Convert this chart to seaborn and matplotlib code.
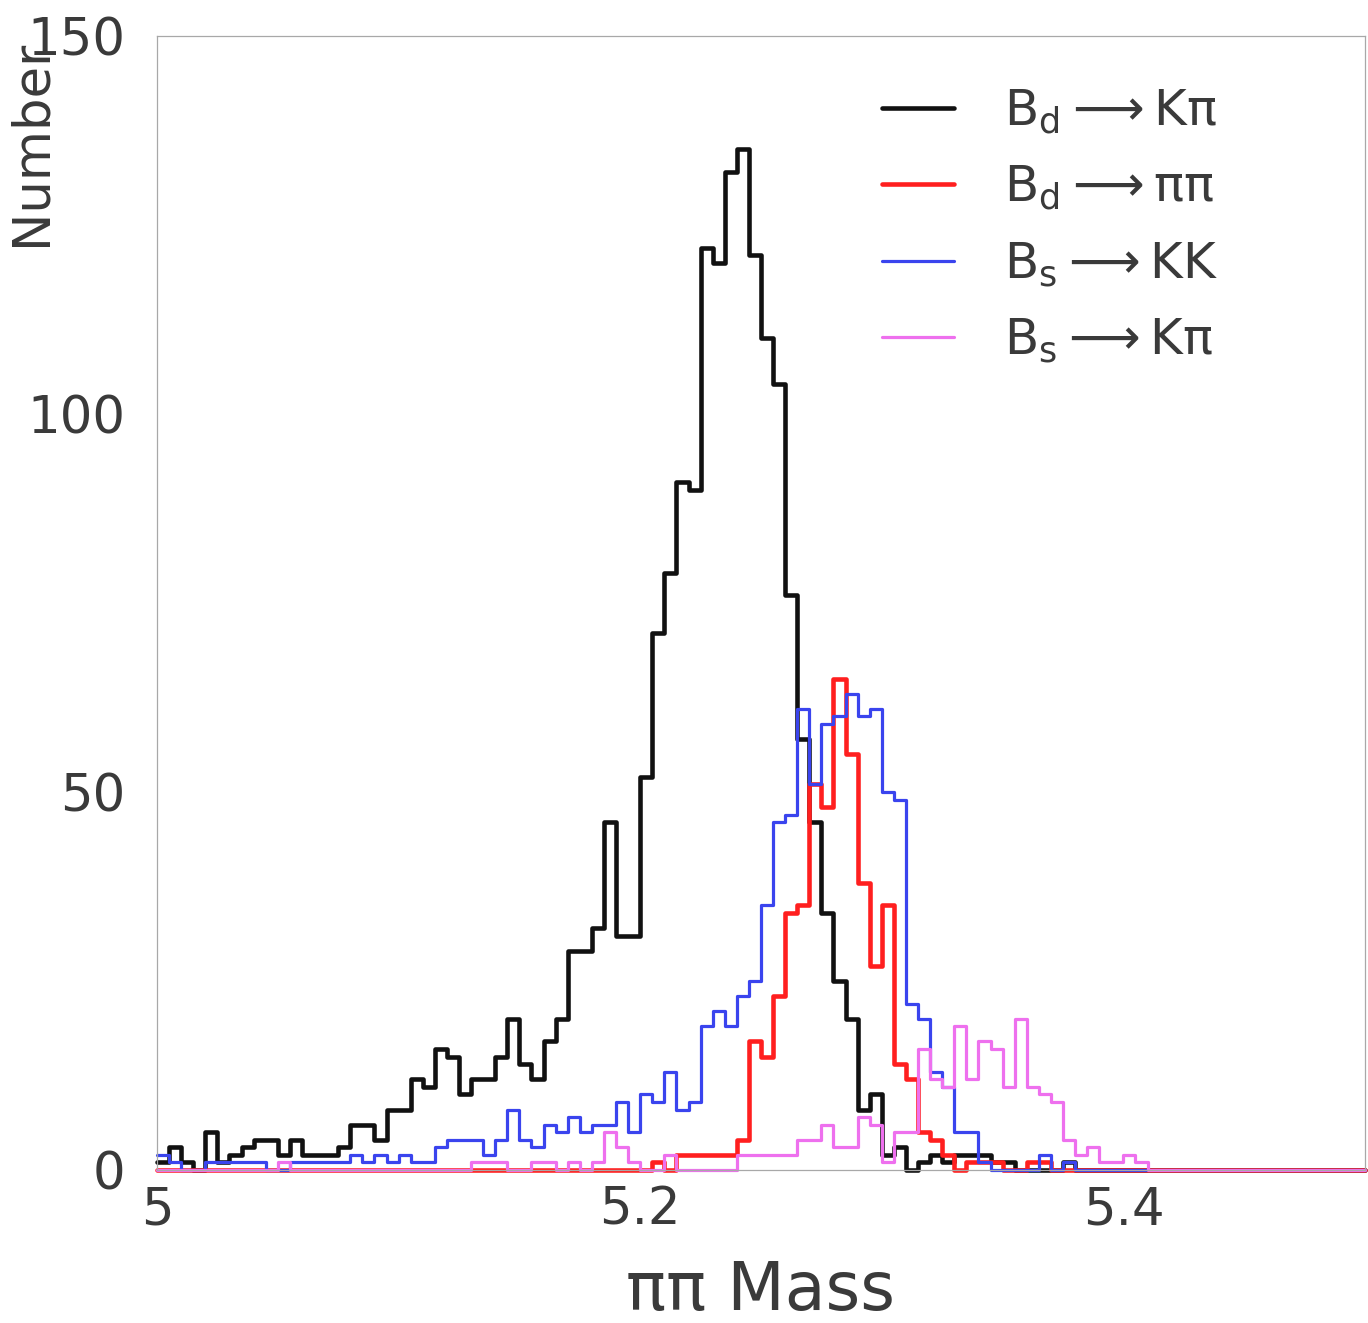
import numpy as np
import pandas as pd
import matplotlib
matplotlib.use("Agg")
import matplotlib.pyplot as plt
from matplotlib.lines import Line2D
import seaborn as sns

# ---- data (100 bins of width 0.005 from 5.0 to 5.5) ----
x_min, x_max, n_bins = 5.0, 5.5, 100

bd_kpi = [1, 3, 1, 0, 5, 1, 2, 3, 4, 4,
          2, 4, 2, 2, 2, 3, 6, 6, 4, 8,
          8, 12, 11, 16, 15, 10, 12, 12, 15, 20,
          14, 12, 17, 20, 29, 29, 32, 46, 31, 31,
          52, 71, 79, 91, 90, 122, 120, 132, 135, 121,
          110, 104, 76, 57, 46, 34, 25, 20, 8, 10,
          2, 3, 0, 1, 2, 1, 2, 2, 2, 1,
          1, 0, 0, 0, 0, 1, 0, 0, 0, 0,
          0, 0, 0, 0, 0, 0, 0, 0, 0, 0,
          0, 0, 0, 0, 0, 0, 0, 0, 0, 0]

bd_pipi = [0, 0, 0, 0, 0, 0, 0, 0, 0, 0,
           0, 0, 0, 0, 0, 0, 0, 0, 0, 0,
           0, 0, 0, 0, 0, 0, 0, 0, 0, 0,
           0, 0, 0, 0, 0, 0, 0, 0, 0, 0,
           0, 1, 0, 2, 2, 2, 2, 2, 4, 17,
           15, 23, 34, 35, 51, 48, 65, 55, 38, 27,
           35, 14, 12, 5, 4, 2, 0, 1, 1, 1,
           0, 0, 1, 1, 0, 0, 0, 0, 0, 0,
           0, 0, 0, 0, 0, 0, 0, 0, 0, 0,
           0, 0, 0, 0, 0, 0, 0, 0, 0, 0]

bs_kk = [2, 1, 0, 0, 1, 1, 1, 1, 1, 0,
         0, 1, 1, 1, 1, 1, 2, 1, 2, 1,
         2, 1, 1, 3, 4, 4, 4, 2, 4, 8,
         4, 3, 6, 5, 7, 5, 6, 6, 9, 5,
         10, 9, 13, 8, 9, 19, 21, 19, 23, 25,
         35, 46, 47, 61, 51, 59, 60, 63, 60, 61,
         50, 49, 22, 20, 13, 11, 5, 5, 1, 0,
         0, 0, 0, 2, 0, 1, 0, 0, 0, 0,
         0, 0, 0, 0, 0, 0, 0, 0, 0, 0,
         0, 0, 0, 0, 0, 0, 0, 0, 0, 0]

bs_kpi = [0, 0, 0, 0, 0, 0, 0, 0, 0, 0,
          1, 0, 0, 0, 0, 0, 0, 0, 0, 0,
          0, 0, 0, 0, 0, 0, 1, 1, 1, 0,
          0, 1, 1, 0, 1, 0, 1, 5, 3, 1,
          0, 0, 2, 0, 0, 0, 0, 0, 2, 2,
          2, 2, 2, 4, 4, 6, 3, 3, 7, 6,
          1, 5, 5, 16, 12, 11, 19, 12, 17, 16,
          11, 20, 11, 10, 9, 4, 2, 3, 1, 1,
          2, 1, 0, 0, 0, 0, 0, 0, 0, 0,
          0, 0, 0, 0, 0, 0, 0, 0, 0, 0]

series_labels = [r"$\mathregular{B_d \longrightarrow K\pi}$",
                 r"$\mathregular{B_d \longrightarrow \pi\pi}$",
                 r"$\mathregular{B_s \longrightarrow KK}$",
                 r"$\mathregular{B_s \longrightarrow K\pi}$"]
series_values = [bd_kpi, bd_pipi, bs_kk, bs_kpi]
series_colors = ["#111111", "#ff1f1f", "#3a44ee", "#ee70ee"]
series_widths = [3.3, 3.3, 2.3, 2.3]

x_ticks = [5.0, 5.2, 5.4]
x_tick_labels = ["5", "5.2", "5.4"]
y_ticks = [0, 50, 100, 150]
y_tick_labels = ["0", "50", "100", "150"]

# ---- figure ----
sns.set_style("white")
plt.rcParams["font.family"] = ["DejaVu Sans"]
plt.rcParams["mathtext.fontset"] = "dejavusans"

fig = plt.figure(figsize=(13.68, 13.23), dpi=100)
ax = fig.add_axes([157 / 1368, 1 - 1170 / 1323, 1208 / 1368, 1134 / 1323])

bin_w = (x_max - x_min) / n_bins
centers = x_min + bin_w * (np.arange(n_bins) + 0.5)

for vals, col, lw in zip(series_values, series_colors, series_widths):
    df = pd.DataFrame({"mass": centers, "count": np.asarray(vals, dtype=float)})
    sns.histplot(data=df, x="mass", weights="count", binwidth=bin_w,
                 binrange=(x_min, x_max), element="step", fill=False,
                 color=col, linewidth=lw, ax=ax)

for ln in ax.lines:
    ln.set_clip_on(False)

ax.set_xlim(x_min, x_max)
ax.set_ylim(0, 150)

txt_col = "#3a3a3a"
ax.set_xticks(x_ticks)
ax.set_xticklabels(x_tick_labels)
ax.set_yticks(y_ticks)
ax.set_yticklabels(y_tick_labels)
ax.tick_params(axis="both", direction="in", length=6, width=0.8,
               colors="#9aa89a", labelcolor=txt_col, labelsize=37)
ax.tick_params(axis="y", pad=23)
ax.tick_params(axis="x", pad=11)

for s in ax.spines.values():
    s.set_color("#a8a8a8")
    s.set_linewidth(0.9)

ax.set_xlabel("ππ Mass", fontsize=48, color=txt_col)
ax.xaxis.set_label_coords(0.5, -0.078)
ax.set_ylabel("Number", fontsize=37, color=txt_col, loc="top")
ax.yaxis.set_label_coords(-0.083, 0.997)

handles = [Line2D([0], [0], color=c, lw=w) for c, w in zip(series_colors, series_widths)]
leg = ax.legend(handles, series_labels, loc="upper left",
                bbox_to_anchor=(0.60, 0.955), frameon=False, fontsize=36,
                handlelength=1.45, handletextpad=1.0, labelspacing=0.56,
                borderpad=0, borderaxespad=0)
for t in leg.get_texts():
    t.set_color(txt_col)

fig.savefig("out.png", dpi=100, facecolor="white")
